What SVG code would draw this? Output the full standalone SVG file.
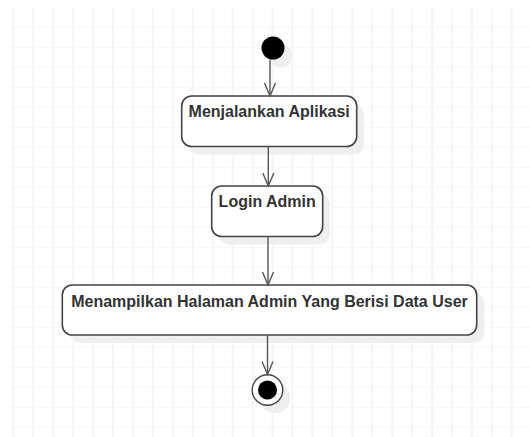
<svg xmlns="http://www.w3.org/2000/svg" width="530" height="437" viewBox="0 0 530 437">
<defs>
<pattern id="grid" patternUnits="userSpaceOnUse" x="3.3" y="6.7" width="19.94" height="20">
<path d="M10 0V20M0 0H19.94" fill="none" stroke="#efefef" stroke-width="1.2"/>
</pattern>
<marker id="arr" markerUnits="userSpaceOnUse" viewBox="-15 -8 17 16" refX="0" refY="0" markerWidth="17" markerHeight="16" orient="auto">
<path d="M-13,-5.5 L0,0 L-13,5.5" fill="none" stroke="#555" stroke-width="1.4"/>
</marker>
</defs>
<style>
.box{fill:#fff;stroke:#444;stroke-width:1.6}
.shadow{fill:#efefef;stroke:none}
.lbl{font-family:"Liberation Sans",Arial,sans-serif;font-size:16px;font-weight:bold;fill:#333;text-anchor:middle}
.conn{fill:none;stroke:#555;stroke-width:1.4}
</style>
<rect width="530" height="437" fill="#fff"/>
<rect x="9" y="8" width="521" height="429" fill="url(#grid)"/>
<g id="start">
<circle cx="281" cy="56" r="11.5" class="shadow"/>
<circle cx="273" cy="48" r="11.5" fill="#000"/>
</g>
<g id="node1">
<rect x="189" y="104" width="175" height="50.5" rx="10" class="shadow"/>
<rect x="181.7" y="96" width="175" height="50.5" rx="10" class="box"/>
<text x="269.2" y="117.3" class="lbl">Menjalankan Aplikasi</text>
</g>
<g id="node2">
<rect x="219" y="194" width="111" height="50.5" rx="10" class="shadow"/>
<rect x="211.7" y="186" width="111" height="50.5" rx="10" class="box"/>
<text x="267.2" y="206.7" class="lbl">Login Admin</text>
</g>
<g id="node3">
<rect x="70" y="293" width="414.4" height="50" rx="10" class="shadow"/>
<rect x="62.3" y="285" width="414.4" height="50" rx="10" class="box"/>
<text x="269.5" y="307.3" class="lbl">Menampilkan Halaman Admin Yang Berisi Data User</text>
</g>
<g id="end">
<circle cx="275" cy="398" r="15.3" class="shadow"/>
<circle cx="267.5" cy="390" r="15.3" fill="#fff" stroke="#444" stroke-width="1.4"/>
<circle cx="267.5" cy="390" r="9.5" fill="#000"/>
</g>
<g id="connectors">
<line x1="270" y1="59.5" x2="270" y2="96" class="conn" marker-end="url(#arr)"/>
<line x1="268.3" y1="146.5" x2="268.3" y2="186" class="conn" marker-end="url(#arr)"/>
<line x1="268" y1="236.5" x2="268" y2="285" class="conn" marker-end="url(#arr)"/>
<line x1="267.5" y1="335" x2="267.5" y2="374.5" class="conn" marker-end="url(#arr)"/>
</g>
</svg>
